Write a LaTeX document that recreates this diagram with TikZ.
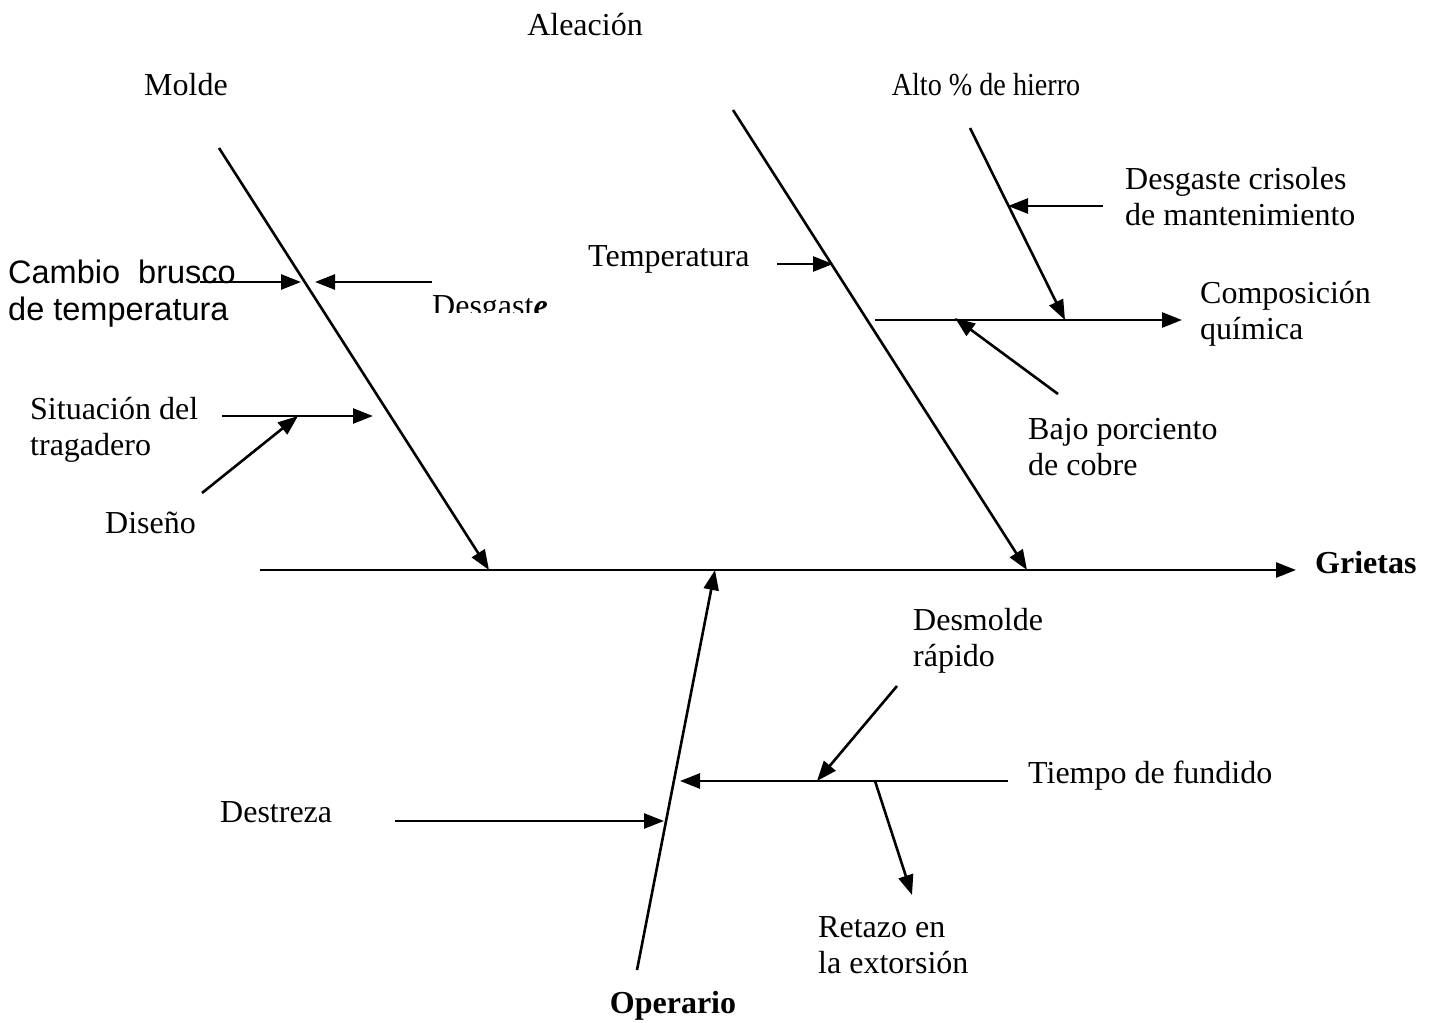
\documentclass[tikz,border=0pt]{standalone}
\usepackage{fontspec}
\usepackage{graphicx}
\setmainfont{Liberation Serif}
\newfontfamily\arialfont{Liberation Sans}
\usetikzlibrary{arrows.meta}
\begin{document}
\begin{tikzpicture}[x=1pt,y=-1pt,
  bone/.style={line width=2.6pt},
  arr/.style={line width=2.6pt,-{Triangle[length=20pt,width=15pt]}},
  lbl/.style={anchor=base west,inner sep=0pt,font=\fontsize{32}{37}\selectfont},
  clbl/.style={anchor=base,inner sep=0pt,font=\fontsize{32}{37}\selectfont}]
\useasboundingbox (0,0) rectangle (1436,1023);

% spine
\coordinate (spineL) at (260,570);
\coordinate (spineR) at (1296,570);
\draw[arr] (spineL) -- (spineR);
\node[lbl,font=\fontsize{32}{37}\selectfont\bfseries] (grietas) at (1315,573) {Grietas};

% main bones
\coordinate (moldeT) at (219,148);
\coordinate (moldeB) at (489,570);
\draw[arr] (moldeT) -- (moldeB);
\coordinate (aleT) at (733,110);
\coordinate (aleB) at (1027,570);
\draw[arr] (aleT) -- (aleB);
\coordinate (opeB) at (637,970);
\coordinate (opeT) at (715,570);
\draw[arr] (opeB) -- (opeT);

% category labels
\node[clbl] (aleacion) at (585,35) {Aleación};
\node[clbl] (molde) at (186,95) {Molde};
\node[clbl] (altohierro) at (986,95) {\scalebox{0.88}[1]{Alto \% de hierro}};
\node[clbl,font=\fontsize{32}{37}\selectfont\bfseries] (operario) at (673,1013) {Operario};

% Molde causes
\node[lbl,font=\fontsize{32.5}{37}\arialfont] (cambio1) at (8,283) {Cambio\ \ brusco};
\node[lbl,font=\fontsize{32.5}{37}\arialfont] (cambio2) at (8,320) {de temperatura};
\coordinate (cambioS) at (200,282);
\coordinate (cambioE) at (301,282);
\draw[arr] (cambioS) -- (cambioE);
\coordinate (desgS) at (432,282);
\coordinate (desgE) at (315,282);
\draw[arr] (desgS) -- (desgE);
\begin{scope}
  \clip (420,285) rectangle (560,312);
  \node[lbl] (desgaste) at (432,316) {Desgast\textit{\textbf{e}}};
\end{scope}

\node[lbl] (situacion1) at (30,419) {Situación del};
\node[lbl] (situacion2) at (30,455) {tragadero};
\coordinate (sitS) at (222,416);
\coordinate (sitE) at (373,416);
\draw[arr] (sitS) -- (sitE);
\node[lbl] (diseno) at (105,533) {Diseño};
\coordinate (disS) at (202,493);
\coordinate (disE) at (298,416);
\draw[arr] (disS) -- (disE);

% Aleacion causes
\node[lbl] (temperatura) at (588,266) {Temperatura};
\coordinate (tempS) at (777,264);
\coordinate (tempE) at (833,264);
\draw[arr] (tempS) -- (tempE);

\coordinate (compS) at (875,320);
\coordinate (compE) at (1182,320);
\draw[arr] (compS) -- (compE);
\node[lbl] (comp1) at (1200,303) {Composición};
\node[lbl] (comp2) at (1200,339) {química};

\coordinate (hierroT) at (970,128);
\coordinate (hierroB) at (1065,320);
\draw[arr] (hierroT) -- (hierroB);
\coordinate (crisS) at (1103,206);
\coordinate (crisE) at (1008,206);
\draw[arr] (crisS) -- (crisE);
\node[lbl] (cris1) at (1125,189) {Desgaste crisoles};
\node[lbl] (cris2) at (1125,225) {de mantenimiento};

\coordinate (cobreS) at (1058,394);
\coordinate (cobreE) at (955,318);
\draw[arr] (cobreS) -- (cobreE);
\node[lbl] (cobre1) at (1028,439) {Bajo porciento};
\node[lbl] (cobre2) at (1028,475) {de cobre};

% Operario causes
\node[lbl] (destreza) at (220,822) {Destreza};
\coordinate (destS) at (395,821);
\coordinate (destE) at (664,821);
\draw[arr] (destS) -- (destE);

\coordinate (tiempoS) at (1008,781);
\coordinate (tiempoE) at (680,781);
\draw[arr] (tiempoS) -- (tiempoE);
\node[lbl] (tiempo) at (1028,783) {Tiempo de fundido};

\coordinate (desmS) at (897,686);
\coordinate (desmE) at (817,781);
\draw[arr] (desmS) -- (desmE);
\node[lbl] (desm1) at (913,630) {Desmolde};
\node[lbl] (desm2) at (913,666) {rápido};

\coordinate (retS) at (875,781);
\coordinate (retE) at (912,895);
\draw[arr] (retS) -- (retE);
\node[lbl] (ret1) at (818,937) {Retazo en};
\node[lbl] (ret2) at (818,973) {la extorsión};
\end{tikzpicture}
\end{document}
